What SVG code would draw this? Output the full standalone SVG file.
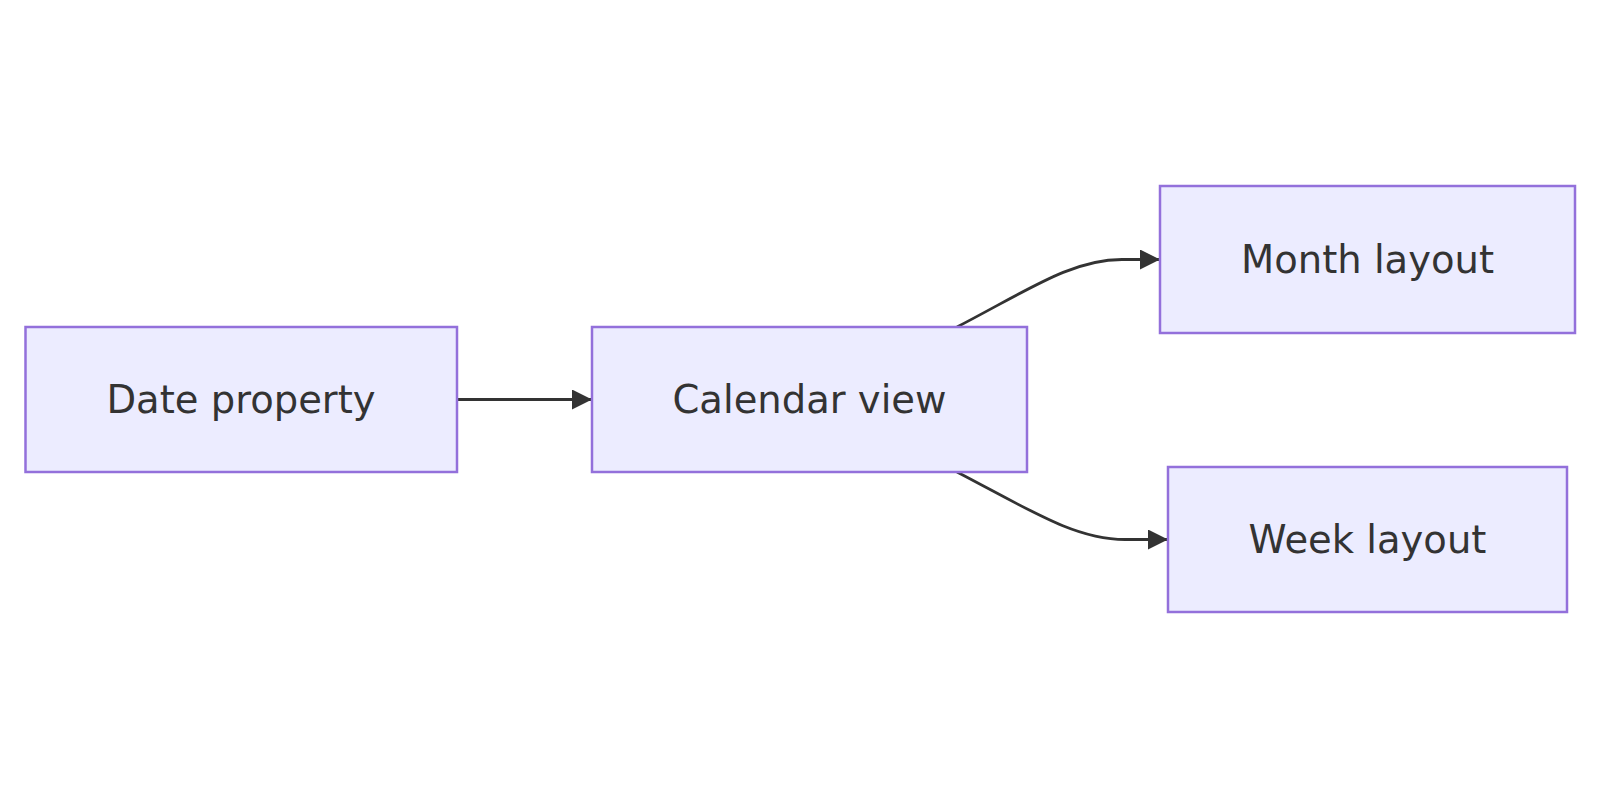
<svg xmlns="http://www.w3.org/2000/svg" width="1600" height="800" viewBox="0 0 1600 800">
<defs>
<style>
.node rect{fill:#ECECFF;stroke:#9370DB;stroke-width:2.5}
.node text{font-family:"DejaVu Sans","Liberation Sans",sans-serif;font-size:38.5px;fill:#333;text-anchor:middle;dominant-baseline:central}
.edge{fill:none;stroke:#333;stroke-width:2.8}
</style>
<marker id="arrow" viewBox="0 0 10 10" refX="10" refY="5" markerUnits="userSpaceOnUse" markerWidth="21" markerHeight="20" orient="auto">
<path d="M0,0 L10,5 L0,10 z" fill="#333"/>
</marker>
</defs>
<rect width="1600" height="800" fill="#fff"/>
<g id="connectors">
<path class="edge" d="M457,399.5 L592,399.5" marker-end="url(#arrow)"/>
<path class="edge" d="M957,327 C1030,289 1072,259.5 1122,259.5 L1160,259.5" marker-end="url(#arrow)"/>
<path class="edge" d="M957,472 C1030,510 1075,539.5 1125,539.5 L1168,539.5" marker-end="url(#arrow)"/>
</g>
<g id="date-property" class="node">
<rect x="25.5" y="327" width="431.5" height="145"/>
<text x="241" y="399.5">Date property</text>
</g>
<g id="calendar-view" class="node">
<rect x="592" y="327" width="435" height="145"/>
<text x="809.5" y="399.5">Calendar view</text>
</g>
<g id="month-layout" class="node">
<rect x="1160" y="186" width="415" height="147"/>
<text x="1367.5" y="259.5">Month layout</text>
</g>
<g id="week-layout" class="node">
<rect x="1168" y="467" width="399" height="145"/>
<text x="1367.5" y="539.5">Week layout</text>
</g>
</svg>
